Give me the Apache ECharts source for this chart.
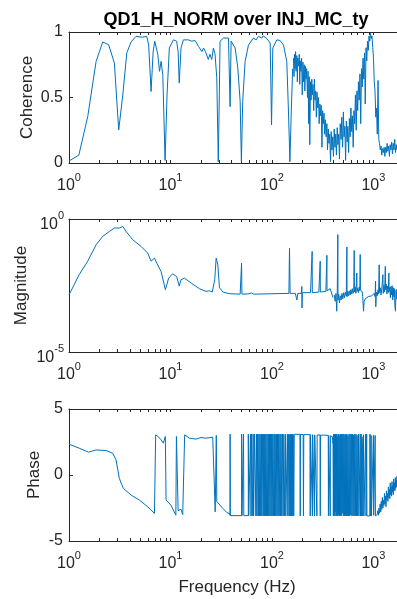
<!DOCTYPE html>
<html>
<head>
<meta charset="utf-8">
<script src="https://cdn.jsdelivr.net/npm/echarts@6/dist/echarts.min.js"></script>
<style>
html, body { margin: 0; padding: 0; background: #fff; overflow: hidden; }
#chart { width: 397px; height: 599px; }
</style>
</head>
<body>
<div id="chart"></div>
<script>
// ---- data (frequency in Hz, value) ----
const cohPoints = [
  [1.0, 0.015], [1.25, 0.06], [1.53, 0.355], [1.85, 0.776], [2.15, 0.924], [2.46, 0.903], [2.8, 0.763],
  [3.09, 0.252], [3.39, 0.52], [3.71, 0.84], [4.09, 0.924], [4.58, 0.967], [5.25, 0.96], [5.84, 0.967],
  [6.1, 0.9], [6.44, 0.546], [6.75, 0.85], [7.0, 0.929], [7.5, 0.83], [7.8, 0.70], [8.08, 0.776], [8.4, 0.673],
  [8.85, 0.02], [9.25, 0.52], [9.75, 0.878], [10.7, 0.94], [11.5, 0.93], [11.9, 0.85], [12.2, 0.61], [12.7, 0.878],
  [13.4, 0.94], [15.0, 0.94], [16.2, 0.93], [17.5, 0.935], [18.9, 0.89], [20.4, 0.85], [21.2, 0.878], [22.4, 0.84],
  [23.6, 0.79], [24.5, 0.83], [25.5, 0.79], [26.5, 0.878], [27.5, 0.83], [28.6, 0.65], [29.6, 0.01], [30.3, 0.52],
  [30.8, 0.93], [33.3, 0.954], [37.3, 0.954], [38.7, 0.43], [39.6, 0.93], [43.4, 0.878], [46.1, 0.725], [48.6, 0.47],
  [50.0, 0.01], [51.5, 0.47], [54.4, 0.776], [58.7, 0.90], [65.7, 0.954], [70, 0.94], [73.7, 0.967], [79.5, 0.954],
  [82, 0.97], [85.7, 0.967], [89, 0.95], [92.6, 0.954], [96.1, 0.916], [99.1, 0.29], [102, 0.878], [111.7, 0.94],
  [120.5, 0.935], [130, 0.90], [140, 0.776], [145.6, 0.39], [150.3, 0.01], [155, 0.39], [160, 0.72]
]
const cohNoisy = [
  [163, 0.80], [165, 0.66], [167, 0.83], [169, 0.72], [171, 0.85], [173, 0.70], [176, 0.82], [178, 0.62],
  [180, 0.80], [183, 0.74], [186, 0.83], [188, 0.60], [190, 0.78], [193, 0.70], [196, 0.80], [199, 0.52],
  [202, 0.77], [205, 0.62], [208, 0.75], [211, 0.55], [214, 0.74], [217, 0.64], [220, 0.72], [224, 0.50],
  [227, 0.70], [230, 0.30], [233, 0.66], [236, 0.14], [240, 0.62], [243, 0.48], [247, 0.64], [250, 0.52],
  [254, 0.60], [258, 0.40], [262, 0.64], [266, 0.48], [270, 0.55], [274, 0.35], [278, 0.54], [283, 0.42],
  [288, 0.50], [292, 0.30], [297, 0.45], [301, 0.36], [306, 0.44], [311, 0.12], [316, 0.40], [321, 0.30],
  [326, 0.38], [331, 0.22], [337, 0.33], [342, 0.20], [348, 0.30], [353, 0.10], [359, 0.26], [365, 0.15],
  [371, 0.22], [378, 0.01], [384, 0.24], [390, 0.10], [397, 0.20], [404, 0.05], [411, 0.26], [418, 0.12],
  [425, 0.22], [432, 0.06], [440, 0.27], [447, 0.14], [455, 0.22], [463, 0.03], [471, 0.30], [480, 0.18],
  [488, 0.35], [497, 0.12], [506, 0.39], [514, 0.20], [523, 0.28], [532, 0.02], [541, 0.32], [551, 0.16],
  [560, 0.28], [570, 0.08], [580, 0.34], [590, 0.20], [600, 0.42], [611, 0.24], [621, 0.36], [632, 0.12],
  [643, 0.40], [654, 0.30], [665, 0.52], [677, 0.25], [688, 0.55], [700, 0.40], [712, 0.62], [724, 0.48],
  [737, 0.68], [750, 0.30], [763, 0.72], [776, 0.58], [790, 0.80], [803, 0.64], [817, 0.84], [831, 0.45],
  [846, 0.88], [860, 0.78], [875, 0.93], [890, 0.86], [905, 0.97], [920, 0.93], [936, 0.99], [952, 0.95],
  [968, 0.97], [985, 0.88], [1002, 0.80], [1019, 0.62], [1037, 0.55], [1055, 0.35], [1073, 0.42], [1092, 0.22],
  [1111, 0.63], [1130, 0.18], [1149, 0.15], [1169, 0.10], [1190, 0.13], [1210, 0.06], [1231, 0.11], [1253, 0.08],
  [1275, 0.12], [1297, 0.05], [1319, 0.12], [1342, 0.08], [1366, 0.15], [1389, 0.09], [1413, 0.13], [1438, 0.05],
  [1463, 0.14], [1488, 0.10], [1514, 0.16], [1541, 0.07], [1567, 0.15], [1595, 0.10], [1622, 0.18], [1650, 0.08],
  [1679, 0.14], [1708, 0.10], [1738, 0.16], [1768, 0.07], [1799, 0.13], [1830, 0.09], [1862, 0.12], [1895, 0.08],
  [1928, 0.11], [1961, 0.07], [1995, 0.10], [2030, 0.08]
]

const magPoints = [
  [1.0, 1.4e-3], [1.26, 8.1e-3], [1.53, 2.6e-2], [1.85, 0.107], [2.15, 0.224], [2.5, 0.34], [2.8, 0.457],
  [3.13, 0.457], [3.39, 0.525], [3.65, 0.34], [4.25, 0.166], [5.13, 0.093], [5.97, 0.052], [6.44, 0.026],
  [6.95, 0.034], [7.33, 0.022], [8.08, 0.0107], [8.91, 0.0022], [9.6, 0.006], [10.5, 0.0087], [11.5, 0.0069],
  [12.2, 0.003], [12.7, 0.0052], [13.7, 0.006], [16.0, 0.0039], [19.3, 0.0024], [22.4, 0.0019], [24.2, 0.002],
  [25.8, 0.0018], [27.3, 0.0052], [28.2, 0.034], [29.3, 0.019], [30.4, 0.0026], [32.9, 0.0018], [38.1, 0.00155],
  [48.6, 0.0015], [49.8, 0.0015], [50.2, 0.022], [50.6, 0.0015], [58, 0.00152], [62.6, 0.00166], [66, 0.0015],
  [100, 0.00155], [147, 0.0016], [149, 0.081], [151, 0.0016], [170, 0.0016], [176, 0.0009], [180, 0.0016],
  [195, 0.0016], [197, 0.0029], [198, 0.00045], [199, 0.0017], [240, 0.0017], [248, 0.0017], [249, 0.06],
  [250, 0.0017], [290, 0.0018], [298, 0.0018], [299, 0.026], [300, 0.0018], [340, 0.0019], [347, 0.0019],
  [348, 0.043], [349, 0.002], [375, 0.0024], [390, 0.0028], [400, 0.0011]
]
const magNoisy = [
  [412, 0.0014], [420, 0.0008], [428, 0.0016], [435, 0.00034], [440, 0.0012], [446, 0.26], [448, 0.0009],
  [455, 0.0015], [463, 0.0007], [472, 0.0013], [480, 0.0009], [490, 0.0016], [500, 0.001], [510, 0.0017],
  [520, 0.0011], [530, 0.0018], [540, 0.0013], [548, 0.089], [550, 0.0012], [560, 0.0019], [570, 0.0013],
  [580, 0.002], [590, 0.0014], [600, 0.0022], [610, 0.0015], [620, 0.0024], [630, 0.0016], [640, 0.0021],
  [647, 0.066], [650, 0.0018], [660, 0.0028], [672, 0.0016], [686, 0.0093], [690, 0.0019], [700, 0.0025],
  [712, 0.0017], [725, 0.0028], [735, 0.002], [741, 0.046], [745, 0.0022], [760, 0.0026], [775, 0.0018],
  [785, 0.0012], [799, 0.00034], [810, 0.0008], [830, 0.0010], [860, 0.0011], [890, 0.0012], [930, 0.0012],
  [960, 0.0013], [990, 0.0014], [1020, 0.0016], [1040, 0.0012], [1050, 0.0046], [1055, 0.0005], [1070, 0.0018],
  [1090, 0.0013], [1110, 0.0022], [1125, 0.0015], [1140, 0.019], [1150, 0.0017], [1170, 0.0026], [1190, 0.0014],
  [1215, 0.0028], [1240, 0.0081], [1250, 0.0016], [1270, 0.0032], [1290, 0.0018], [1310, 0.0166], [1320, 0.0022],
  [1340, 0.0035], [1360, 0.0015], [1380, 0.0030], [1400, 0.0017], [1420, 0.0093], [1430, 0.0019], [1450, 0.0027],
  [1470, 0.0011], [1490, 0.0029], [1510, 0.0014], [1530, 0.0031], [1550, 0.0009], [1570, 0.0026], [1590, 0.0012],
  [1610, 0.0024], [1630, 0.0005], [1650, 0.00034], [1670, 0.0021], [1690, 0.001], [1710, 0.0023], [1740, 0.0008],
  [1770, 0.0019], [1800, 0.0006], [1840, 0.0017], [1880, 0.0009], [1930, 0.0015], [1980, 0.0008], [2040, 0.0012]
]

const phaseLow = [
  [1.0, 2.34], [1.26, 2.03], [1.56, 1.73], [1.85, 1.90], [2.32, 1.85], [2.7, 1.65], [2.91, 1.14], [3.13, -0.25],
  [3.43, -1.01], [4.09, -1.52], [4.94, -1.9], [5.97, -2.41], [6.95, -2.91], [7.05, -3.0], [7.15, 3.04], [7.6, 2.9],
  [8.08, 2.66], [8.5, 2.41], [8.9, 2.92], [9.05, -1.9], [10.1, -2.28], [11.3, -3.04], [11.45, 2.92], [11.7, 2.85],
  [11.9, -2.7], [12.7, -2.6], [13.2, -3.0], [13.6, -3.04], [13.8, 3.04], [15.4, 2.79], [17.9, 2.72], [20.0, 2.84],
  [22.4, 2.79], [26.1, 2.87], [27.1, 3.0], [27.6, -2.79], [28.1, -2.9], [28.3, 3.0], [28.6, -2.0], [29.3, -2.03],
  [32.9, -2.54], [36, -2.85], [38.1, -2.92], [38.6, -3.05]
]
// phase wraps between +pi and -pi, drawn as steps
const phaseWrap = [
  [38.6, -3.05], [38.7, 3.1], [38.9, -3.08], [50.3, 3.1], [50.6, -3.08], [52.5, 3.1], [52.8, -3.08],
  [58.5, 3.1], [59, -3.08], [61.5, 3.1], [62.2, -3.1], [63, 3.1], [64, -3.1], [65.3, 3.1], [66, -3.1],
  [67.5, 3.1], [69.5, -3.1], [70.5, 3.1], [71.2, -3.1], [72.3, 3.1], [73.5, -3.1], [74.5, 3.1], [75.2, -3.1],
  [76.5, 3.1], [77.5, -3.1], [78.8, 3.1], [79.5, -3.1], [81, 3.1], [82, -3.1], [83, 3.1], [84, -3.1],
  [85, 3.1], [86, -3.1], [87, 3.1], [88.2, -3.1], [89.5, 3.1], [90.5, -3.1], [92, 3.1], [93, -3.1],
  [94.5, 3.1], [95.5, -3.1], [97, 3.1], [98, -3.1], [99.5, 3.1], [100.5, -3.1], [102, 3.1], [103.5, -3.1],
  [105, 3.1], [106, -3.1], [107.5, 3.1], [109, -3.1], [110.5, 3.1], [112, -3.1], [113.5, 3.1], [115, -3.1],
  [116.5, 3.1], [118, -3.1], [120, 3.1], [121.5, -3.1], [123, 3.1], [125, -3.1], [127, 3.1], [129, -3.1],
  [131, 3.09], [133, -3.1], [136, 3.09], [137, -3.1], [142, 3.09], [143.5, -3.1], [146, 3.09], [148, -3.1],
  [150, 3.09], [151.5, -3.1], [153, 3.09], [154.5, -3.1], [156, 3.08], [157.5, -3.1], [159, 3.08], [160.5, -3.1],
  [162, 3.08], [164, -3.1], [166, 3.08], [189, 3.07], [190, -3.1], [191, 3.07], [203, 3.07], [204.5, -3.1],
  [206, 3.06], [237, 3.05], [238.5, -3.1], [240, 3.05], [249, 3.05], [250.5, -3.1], [252, 3.05], [261, 3.04],
  [262.5, -3.1], [264, 3.04], [276, 3.03], [277.5, -3.1], [279, 3.03], [298, 3.02], [299.5, -3.1], [301, 3.02],
  [330, 3.0], [359, 3.0], [360.5, -3.1], [362, 2.99], [374, 2.98], [375.5, -3.1], [377, 2.97], [388, 2.9],
  [395, 2.6], [400, 2.3], [403, -3.1], [406, 3.1], [409, -3.0], [412, 3.1], [415, -3.1], [418, 3.05],
  [421, -2.8], [424, 3.1], [428, -3.1], [432, 3.1], [436, -3.1], [440, 2.9], [444, -3.1], [448, 3.1],
  [452, -3.05], [457, 3.1], [462, -3.1], [467, 3.0], [472, -3.1], [477, 3.1], [482, -3.1], [487, 3.1],
  [493, -2.9], [499, 3.1], [505, -3.1], [511, 3.1], [517, -3.1], [523, 3.05], [529, -3.1], [535, 3.1],
  [541, -3.1], [547, 3.1], [554, -3.1], [561, 3.0], [568, -3.1], [575, 3.1], [582, -3.1], [590, 3.1],
  [598, -3.05], [606, 3.1], [614, -3.1], [622, 3.1], [630, -3.1], [638, 3.05], [646, -3.1], [655, 3.1],
  [664, -3.1], [673, 3.1], [682, -3.1], [691, 3.0], [700, -3.1], [712, 3.1], [720, -3.1], [741, 3.1],
  [746, -3.1], [758, 3.1], [764, -3.1], [772, 2.9], [780, 2.2], [786, -3.1], [800, 3.05], [806, -3.1],
  [840, 3.1], [846, -3.1], [858, 3.1], [864, -3.1], [925, 3.1], [932, -3.1], [950, 3.0], [956, -3.1],
  [1000, 3.0], [1006, -3.05], [1040, 3.0], [1047, -3.1], [1090, -3.0]
]
const phaseHigh = [
  [1090, -3.0], [1105, -2.7], [1120, -3.05], [1135, -2.5], [1150, -2.9], [1165, -2.2], [1180, -2.8], [1195, -2.0],
  [1210, -2.6], [1225, -1.7], [1240, -2.5], [1255, -1.9], [1270, -2.3], [1285, -1.4], [1300, -2.2], [1315, -1.6],
  [1330, -2.4], [1345, -1.2], [1360, -1.9], [1375, -1.4], [1390, -2.0], [1405, -0.9], [1420, -1.7], [1435, -1.1],
  [1450, -1.8], [1465, -0.6], [1480, -1.5], [1495, -0.9], [1510, -1.6], [1525, -0.5], [1540, -1.3], [1555, -0.8],
  [1570, -1.5], [1585, -0.3], [1600, -1.1], [1615, -0.6], [1630, -1.2], [1645, -0.2], [1660, -1.0], [1675, -0.4],
  [1690, -0.9], [1705, -0.1], [1720, -0.8], [1740, -0.3], [1760, -0.7], [1780, 0.1], [1800, -0.5], [1830, -0.1],
  [1860, -0.6], [1900, 0.2], [1940, -0.3], [1980, 0.1], [2030, -0.2]
]

const xMajorTicks = [1, 10, 100, 1000]
const xMinorTicks = [2, 3, 4, 5, 6, 7, 8, 9, 20, 30, 40, 50, 60, 70, 80, 90, 200, 300, 400, 500, 600, 700, 800, 900, 2000]
const magTicks = [1e-5, 1]

// ---- styling ----
const BLUE = '#0072BD'
const AX = '#262626'
const FONT = 'Liberation Sans, Arial, sans-serif'

const supRich = {
  b: { fontSize: 16, fontFamily: FONT, color: AX, lineHeight: 22, verticalAlign: 'bottom' },
  s: { fontSize: 11, fontFamily: FONT, color: AX, lineHeight: 11, verticalAlign: 'top' },
}
function pow10Label(v) {
  const e = Math.round(Math.log10(v))
  return '{b|10}{s|' + e + '}'
}

// grids run past the right edge of the window, as in the reference
const gridBase = { left: 69, width: 336, outerBoundsMode: 'none', containLabel: false }
const grids = [
  Object.assign({ top: 32, height: 131 }, gridBase),
  Object.assign({ top: 219, height: 133 }, gridBase),
  Object.assign({ top: 409, height: 132 }, gridBase),
]

function xAxes(gi, withName) {
  const base = {
    gridIndex: gi, type: 'log', logBase: 10, min: 1, max: 2048,
    axisLine: { onZero: false, lineStyle: { color: AX, width: 1 } },
    axisTick: { inside: true, length: 3, customValues: xMajorTicks.concat(xMinorTicks), lineStyle: { color: AX } },
    splitLine: { show: false },
  }
  const bottom = Object.assign({}, base, {
    position: 'bottom',
    axisLabel: { customValues: xMajorTicks, formatter: pow10Label, rich: supRich, margin: 9 },
  })
  if (withName) {
    Object.assign(bottom, {
      name: 'Frequency (Hz)', nameLocation: 'middle', nameGap: 38, nameMoveOverlap: false,
      nameTextStyle: { fontSize: 17, fontFamily: FONT, color: AX },
    })
  }
  const top = Object.assign({}, base, { position: 'top', axisLabel: { show: false } })
  return [bottom, top]
}

function yName(name, gap) {
  return {
    name: name, nameLocation: 'middle', nameGap: gap, nameRotate: 90, nameMoveOverlap: false,
    nameTextStyle: { fontSize: 17, fontFamily: FONT, color: AX },
  }
}
const yLine = { show: true, onZero: false, lineStyle: { color: AX, width: 1 } }
const yLabel = { fontSize: 16, fontFamily: FONT, color: AX, margin: 6 }

function line(xi, yi, data, step) {
  return {
    type: 'line', xAxisIndex: xi, yAxisIndex: yi, data: data,
    symbol: 'none', step: step || false, silent: true,
    lineStyle: { color: BLUE, width: 1 },
  }
}

const chart = echarts.init(document.getElementById('chart'), null, { renderer: 'canvas' })
chart.setOption({
  animation: false,
  backgroundColor: '#fff',
  title: {
    text: 'QD1_H_NORM over INJ_MC_ty',
    left: 231, top: 6, textAlign: 'center',
    textStyle: { fontSize: 18, fontWeight: 'bold', fontFamily: FONT, color: '#000' },
  },
  grid: grids,
  xAxis: [].concat(xAxes(0, false), xAxes(1, false), xAxes(2, true)),
  yAxis: [
    Object.assign({
      gridIndex: 0, type: 'value', min: 0, max: 1, interval: 0.5,
      axisLine: yLine, axisTick: { inside: true, length: 4, lineStyle: { color: AX } },
      axisLabel: yLabel, splitLine: { show: false },
    }, yName('Coherence', 33)),
    Object.assign({
      gridIndex: 1, type: 'log', logBase: 10, min: 1e-5, max: 1,
      axisLine: yLine, axisTick: { show: false },
      axisLabel: { customValues: magTicks, formatter: pow10Label, rich: supRich, margin: 5, padding: [5, 0, 0, 0] },
      splitLine: { show: false },
    }, yName('Magnitude', 39)),
    Object.assign({
      gridIndex: 2, type: 'value', min: -5, max: 5, interval: 5,
      axisLine: yLine, axisTick: { inside: true, length: 4, lineStyle: { color: AX } },
      axisLabel: yLabel, splitLine: { show: false },
    }, yName('Phase', 26)),
  ],
  series: [
    line(0, 0, cohPoints),
    line(0, 0, cohNoisy),
    line(2, 1, magPoints),
    line(2, 1, magNoisy),
    line(4, 2, phaseLow),
    line(4, 2, phaseWrap, 'end'),
    line(4, 2, phaseHigh),
  ],
})
</script>
</body>
</html>
